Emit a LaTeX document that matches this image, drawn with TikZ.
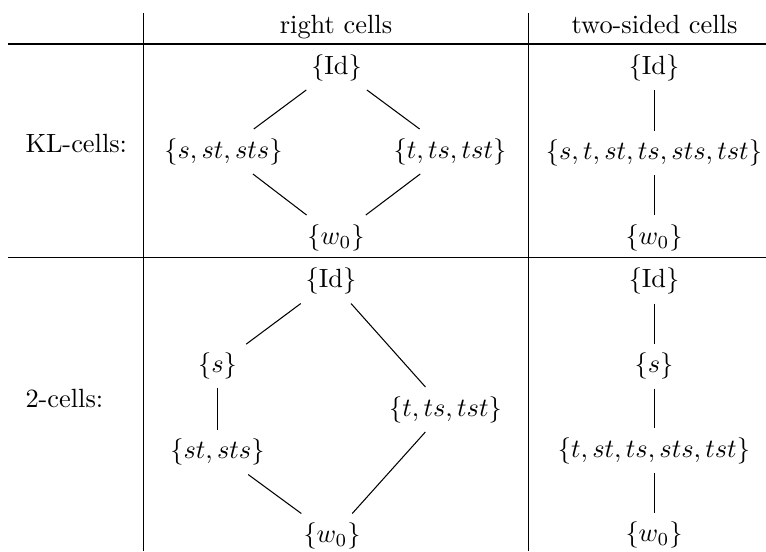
\documentclass[tikz,border=0pt]{standalone}
\usepackage{amsmath}
\begin{document}
\begin{tikzpicture}[rule/.style={line width=0.4pt}, link/.style={line width=0.4pt},
	rowlabel/.style={anchor=base west, inner sep=0pt}]
	\useasboundingbox (0,0) rectangle (10.213,-7.347);
	% table rules
	\draw[rule] (1.913,-0.173) -- (1.913,-7.347);
	\draw[rule] (7.04,-0.173) -- (7.04,-7.347);
	\draw[rule] (0.107,-0.587) -- (10.213,-0.587);
	\draw[rule] (0.107,-3.427) -- (10.213,-3.427);
	
	% header and row labels
	\node[anchor=base] (hright) at (4.48,-0.447) {right cells};
	\node[anchor=base] (htwo) at (8.727,-0.447) {two-sided cells};
	\node[rowlabel] (rkl) at (0.333,-2.03) {KL-cells:};
	\node[rowlabel] (rtwo) at (0.333,-5.427) {2-cells:};
	
	% KL-cells, right
	\begin{scope}
		\node (a1) at (4.487,-0.9) {$\{\mathrm{Id}\}$};
		\node (a2) at (2.98,-2.02) {$\{s,st,sts\}$};
		\node (a3) at (6.0,-2.02) {$\{t,ts,tst\}$};
		\node (a4) at (4.48,-3.167) {$\{w_0\}$};
		\draw[link] (a1) -- (a2);
		\draw[link] (a1) -- (a3);
		\draw[link] (a2) -- (a4);
		\draw[link] (a3) -- (a4);
	\end{scope}
	
	% KL-cells, two-sided
	\begin{scope}[xshift=8.72cm]
		\node (b1) at (0,-0.9) {$\{\mathrm{Id}\}$};
		\node (b2) at (0,-2.04) {$\{s,t,st,ts,sts,tst\}$};
		\node (b3) at (0,-3.167) {$\{w_0\}$};
		\draw[link] (b1) -- (b2);
		\draw[link] (b2) -- (b3);
	\end{scope}
	
	% 2-cells, right
	\begin{scope}
		\node (c1) at (4.413,-3.747) {$\{\mathrm{Id}\}$};
		\node (c2) at (2.9,-4.873) {$\{s\}$};
		\node (c3) at (2.9,-6.027) {$\{st,sts\}$};
		\node (c4) at (5.94,-5.46) {$\{t,ts,tst\}$};
		\node (c5) at (4.427,-7.147) {$\{w_0\}$};
		\draw[link] (c1) -- (c2);
		\draw[link] (c1) -- (c4);
		\draw[link] (c2) -- (c3);
		\draw[link] (c3) -- (c5);
		\draw[link] (c4) -- (c5);
	\end{scope}
	
	% 2-cells, two-sided
	\begin{scope}[xshift=8.72cm]
		\node (d1) at (0,-3.747) {$\{\mathrm{Id}\}$};
		\node (d2) at (0,-4.88) {$\{s\}$};
		\node (d3) at (0,-6.007) {$\{t,st,ts,sts,tst\}$};
		\node (d4) at (0,-7.133) {$\{w_0\}$};
		\draw[link] (d1) -- (d2);
		\draw[link] (d2) -- (d3);
		\draw[link] (d3) -- (d4);
	\end{scope}
\end{tikzpicture}
\end{document}
